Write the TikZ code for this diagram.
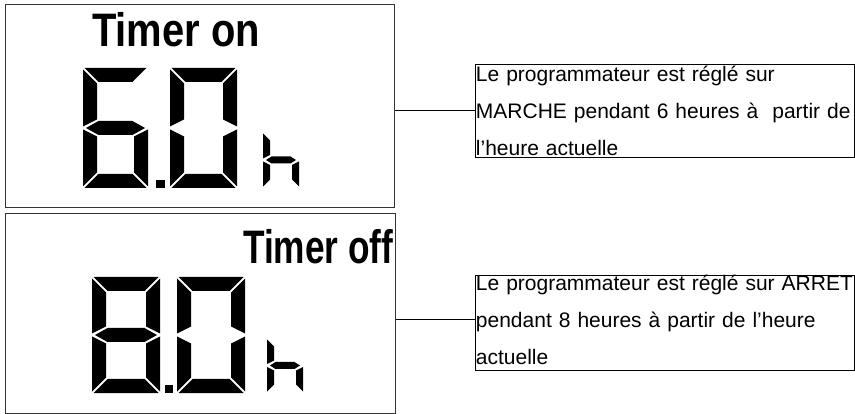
\documentclass[tikz,border=0pt]{standalone}
\usepackage{fontspec}
\setmainfont{Liberation Sans}
\usetikzlibrary{positioning,calc}

% seven segment pieces, origin at the top left corner of the digit
\newcommand{\lcdG}{1.5}
\newcommand{\segA}{\fill (\lcdG,0) -- ({\lcdW-\lcdG},0) -- ({\lcdW-\lcdT-\lcdG},\lcdT) -- ({\lcdT+\lcdG},\lcdT) -- cycle;}
\newcommand{\segB}{\fill (\lcdW,\lcdG) -- ({\lcdW-\lcdT},{\lcdT+\lcdG}) -- ({\lcdW-\lcdT},{\lcdH/2-\lcdT/2-\lcdG}) -- (\lcdW,{\lcdH/2-\lcdG}) -- cycle;}
\newcommand{\segC}{\fill (\lcdW,{\lcdH/2+\lcdG}) -- ({\lcdW-\lcdT},{\lcdH/2+\lcdT/2+\lcdG}) -- ({\lcdW-\lcdT},{\lcdH-\lcdT-\lcdG}) -- (\lcdW,{\lcdH-\lcdG}) -- cycle;}
\newcommand{\segD}{\fill (\lcdG,\lcdH) -- ({\lcdW-\lcdG},\lcdH) -- ({\lcdW-\lcdT-\lcdG},{\lcdH-\lcdT}) -- ({\lcdT+\lcdG},{\lcdH-\lcdT}) -- cycle;}
\newcommand{\segE}{\fill (0,{\lcdH/2+\lcdG}) -- (\lcdT,{\lcdH/2+\lcdT/2+\lcdG}) -- (\lcdT,{\lcdH-\lcdT-\lcdG}) -- (0,{\lcdH-\lcdG}) -- cycle;}
\newcommand{\segF}{\fill (0,\lcdG) -- (\lcdT,{\lcdT+\lcdG}) -- (\lcdT,{\lcdH/2-\lcdT/2-\lcdG}) -- (0,{\lcdH/2-\lcdG}) -- cycle;}
\newcommand{\segG}{\fill ({2*\lcdG},{\lcdH/2}) -- ({\lcdT+\lcdG},{\lcdH/2-\lcdT/2}) -- ({\lcdW-\lcdT-\lcdG},{\lcdH/2-\lcdT/2}) -- ({\lcdW-2*\lcdG},{\lcdH/2}) -- ({\lcdW-\lcdT-\lcdG},{\lcdH/2+\lcdT/2}) -- ({\lcdT+\lcdG},{\lcdH/2+\lcdT/2}) -- cycle;}

% x, y, width, height, thickness, lit segments
\newcommand{\lcddigit}[6]{%
  \begin{scope}[shift={(#1,#2)}]
    \pgfmathsetmacro{\lcdW}{#3}\pgfmathsetmacro{\lcdH}{#4}\pgfmathsetmacro{\lcdT}{#5}
    \foreach \sgm in {#6} {\csname seg\sgm\endcsname}
  \end{scope}}
\newcommand{\notefont}{\fontsize{21}{37}\selectfont\hyphenpenalty=10000\relax}

\begin{document}
\begin{tikzpicture}[x=1pt,y=-1pt,
  lcdframe/.style={draw=black!80,line width=1.4pt,inner sep=0pt,anchor=north west},
  lcdlabel/.style={inner sep=0pt,anchor=base west,font=\fontsize{47}{50}\selectfont\bfseries},
  notebox/.style={draw,line width=0.9pt,anchor=north west,inner xsep=0.5pt,inner ysep=0pt,
    text width=378pt,align=left,font=\notefont},
  link/.style={draw,line width=0.9pt}]
\useasboundingbox (0,0) rectangle (855,414);

% timer on display
\node[lcdframe,minimum width=389pt,minimum height=203pt] (lcdon) at (5,4) {};
\node[lcdlabel] (labon) at (92,47) {\scalebox{0.85}[1]{Timer on}};
\lcddigit{83}{68}{65}{120}{14}{A,C,D,E,F,G}
\fill (156,180) rectangle (165,188);
\lcddigit{170}{68}{67}{120}{14}{A,B,C,D,E,F}
\lcddigit{263}{132}{36}{56}{7}{C,E,F,G}

% timer off display
\node[lcdframe,minimum width=390pt,minimum height=200pt] (lcdoff) at (5,213) {};
\node[lcdlabel] (laboff) at (243,264) {\scalebox{0.75}[1]{Timer off}};
\lcddigit{92}{277}{68}{116}{14}{A,B,C,D,E,F,G}
\fill (165,385) rectangle (173,393);
\lcddigit{177}{277}{68}{116}{14}{A,B,C,D,E,F}
\lcddigit{267}{338}{36}{55}{7}{C,E,F,G}

% notes
\node[notebox,minimum height=93pt] (noteon) at (475,64)
  {Le programmateur est réglé sur\\MARCHE pendant 6 heures à\ \ partir de\\l’heure actuelle};
\node[notebox,text depth=80pt] (noteoff) at (475,275)
  {Le programmateur est réglé sur ARRET\\pendant 8 heures à partir de l’heure\\actuelle};

\draw[link] (noteon.west) -- (noteon.west -| lcdon.east);
\coordinate (offjoin) at ([yshift=4pt]noteoff.west);
\draw[link] (offjoin) -- (offjoin -| lcdoff.east);
\end{tikzpicture}
\end{document}
